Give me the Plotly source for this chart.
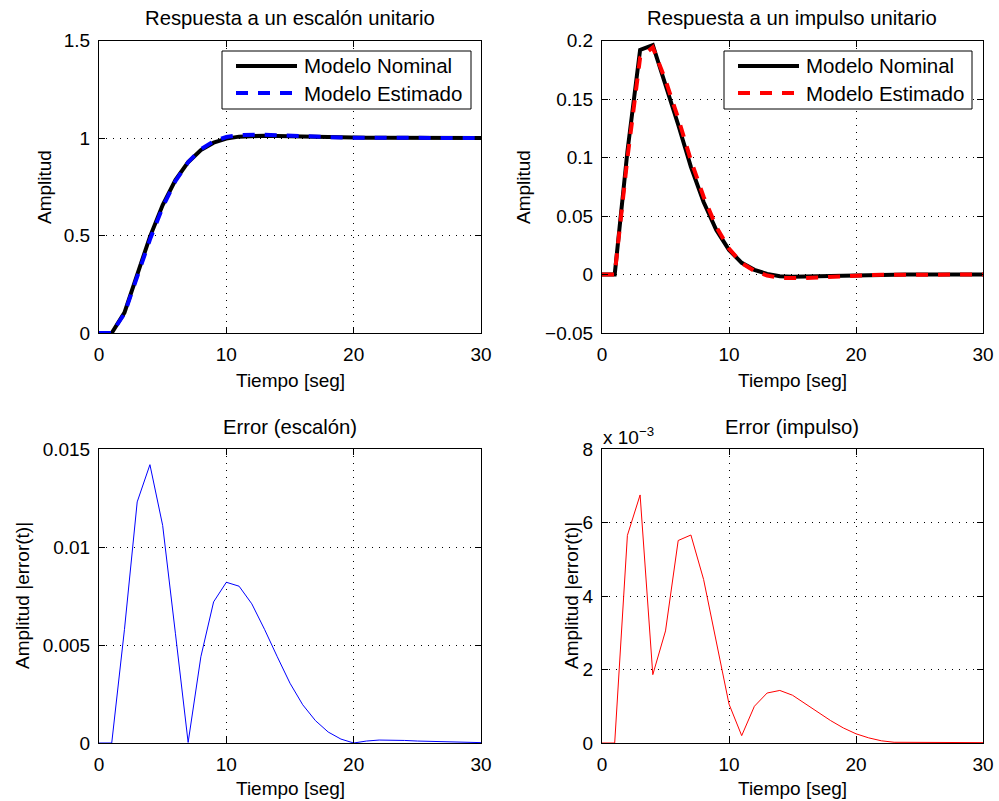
import numpy as np
import plotly.graph_objects as go

# Sample instants (seconds)
t = list(range(31))

# Step response: nominal model vs. estimated model
step_nominal = [0, 0, 0.105, 0.297, 0.493, 0.656, 0.784, 0.876, 0.938, 0.976,
                0.997, 1.007, 1.011, 1.0115, 1.0100, 1.0080, 1.0060, 1.0043, 1.0030, 1.0020,
                1.0013, 1.0009, 1.0007, 1.0006, 1.0005, 1.0004, 1.0003, 1.0002, 1.0002, 1.0002,
                1.0002]
step_estimated = [0, 0, 0.0992, 0.2847, 0.4788, 0.6449, 0.7784, 0.87603, 0.9424, 0.9832,
                  1.0052, 1.0150, 1.0181, 1.0173, 1.0144, 1.01105, 1.00795, 1.00544, 1.00356, 1.0022,
                  1.0013, 1.0008, 1.00055, 1.00045, 1.00037, 1.0003, 1.00022, 1.00014, 1.00016, 1.00017,
                  1.00018]

# Impulse response: nominal model vs. estimated model
impulse_nominal = [0, 0, 0.105, 0.192, 0.196, 0.163, 0.128, 0.092, 0.062, 0.038,
                   0.021, 0.010, 0.004, 0.0005, -0.0015, -0.0020, -0.0020, -0.0017, -0.0013, -0.0010,
                   -0.0007, -0.0004, -0.0002, -0.0001, -0.0001, -0.0001, -0.0001, -0.0001, 0.0, 0.0,
                   0.0]
impulse_estimated = [0, 0, 0.09935, 0.18525, 0.19414, 0.16605, 0.13351, 0.09766, 0.06645, 0.04073,
                     0.02206, 0.0098, 0.0030, -0.00086, -0.00293, -0.0033, -0.00307, -0.00254, -0.00191, -0.00141,
                     -0.00095, -0.00054, -0.00026, -0.00012, -0.00008, -0.00007, -0.00007, -0.000075, 0.00002, 0.000015,
                     0.00001]

# Absolute errors between both models
step_error = np.abs(np.array(step_estimated) - np.array(step_nominal))
impulse_error = np.abs(np.array(impulse_estimated) - np.array(impulse_nominal))

# Tick labels
x_ticks = [0, 10, 20, 30]
y_ticks_step = [0, 0.5, 1, 1.5]
y_text_step = ["0", "0.5", "1", "1.5"]
y_ticks_imp = [-0.05, 0, 0.05, 0.1, 0.15, 0.2]
y_text_imp = ["\u22120.05", "0", "0.05", "0.1", "0.15", "0.2"]
y_ticks_err_step = [0, 0.005, 0.01, 0.015]
y_text_err_step = ["0", "0.005", "0.01", "0.015"]
y_ticks_err_imp = [0, 0.002, 0.004, 0.006, 0.008]
y_text_err_imp = ["0", "2", "4", "6", "8"]

W, H = 999, 801
FONT = "Liberation Sans, Arial, Helvetica, sans-serif"
FS = 19
FS_TITLE = 20.3
FS_LEGEND = 20.5


def px(x):
    return x / W


def py(y):
    return 1 - y / H


fig = go.Figure()

fig.add_trace(go.Scatter(x=t, y=step_nominal, name="Modelo Nominal", mode="lines",
                         line=dict(color="black", width=4), xaxis="x", yaxis="y"))
fig.add_trace(go.Scatter(x=t, y=step_estimated, name="Modelo Estimado", mode="lines",
                         line=dict(color="#0000ff", width=4, dash="12px,10px"), xaxis="x", yaxis="y"))
fig.add_trace(go.Scatter(x=t, y=impulse_nominal, name="Modelo Nominal", mode="lines",
                         line=dict(color="black", width=4), xaxis="x2", yaxis="y2"))
fig.add_trace(go.Scatter(x=t, y=impulse_estimated, name="Modelo Estimado", mode="lines",
                         line=dict(color="#ff0000", width=4, dash="12px,10px"), xaxis="x2", yaxis="y2"))
fig.add_trace(go.Scatter(x=t, y=step_error, mode="lines",
                         line=dict(color="#0000ff", width=1), xaxis="x3", yaxis="y3"))
fig.add_trace(go.Scatter(x=t, y=impulse_error, mode="lines",
                         line=dict(color="#ff0000", width=1), xaxis="x4", yaxis="y4"))

axis_common = dict(showline=True, linecolor="black", linewidth=1, mirror="ticks",
                   ticks="inside", ticklen=6, tickcolor="black", tickwidth=1,
                   showgrid=True, gridcolor="black", gridwidth=1, griddash="1px,6px",
                   zeroline=False, tickfont=dict(family=FONT, size=FS, color="black"))

x_left = [px(99), px(481)]
x_right = [px(602), px(983)]
y_top = [py(333), py(40.5)]
y_bot = [py(743), py(449)]

layout_axes = {}
specs = [
    ("", x_left, y_top, [0, 1.5], y_ticks_step, y_text_step),
    ("2", x_right, y_top, [-0.05, 0.2], y_ticks_imp, y_text_imp),
    ("3", x_left, y_bot, [0, 0.015], y_ticks_err_step, y_text_err_step),
    ("4", x_right, y_bot, [0, 0.008], y_ticks_err_imp, y_text_err_imp),
]
for k, xd, yd, yr, yv, yt in specs:
    layout_axes["xaxis" + k] = dict(axis_common, domain=xd, anchor="y" + k, range=[0, 30],
                                    tickmode="array", tickvals=x_ticks, ticklabelstandoff=4)
    layout_axes["yaxis" + k] = dict(axis_common, domain=yd, anchor="x" + k, range=yr,
                                    tickmode="array", tickvals=yv, ticktext=yt, ticklabelstandoff=4)

fig.update_layout(width=W, height=H, autosize=False, showlegend=False,
                  margin=dict(l=0, r=0, t=0, b=0, autoexpand=False),
                  paper_bgcolor="white", plot_bgcolor="white",
                  font=dict(family=FONT, size=FS, color="black"),
                  **layout_axes)

annotations = []


def label(x, y, text, angle=0, xanchor="center", yanchor="middle", size=FS):
    annotations.append(dict(x=px(x), y=py(y), xref="paper", yref="paper", text=text,
                            showarrow=False, textangle=angle, xanchor=xanchor, yanchor=yanchor,
                            font=dict(family=FONT, size=size, color="black")))


# Subplot titles
label(290, 18, "Respuesta a un escalón unitario", size=FS_TITLE)
label(792, 18, "Respuesta a un impulso unitario", size=FS_TITLE)
label(290, 427, "Error (escalón)", size=FS_TITLE)
label(792, 427, "Error (impulso)", size=FS_TITLE)
# Axis titles
for xc, yc in [(290, 380), (792, 380), (290, 788), (792, 788)]:
    label(xc, yc, "Tiempo [seg]")
label(44, 187, "Amplitud", angle=-90)
label(523, 187, "Amplitud", angle=-90)
label(22, 596, "Amplitud |error(t)|", angle=-90)
label(571, 596, "Amplitud |error(t)|", angle=-90)
# Exponent of the impulse error axis
label(601, 436, "x 10<sup>\u22123</sup>", xanchor="left")

shapes = []


def legend_box(x0, x1, y0, y1, entries):
    shapes.append(dict(type="rect", xref="paper", yref="paper", x0=px(x0), x1=px(x1),
                       y0=py(y1), y1=py(y0), line=dict(color="black", width=1),
                       fillcolor="white", layer="above"))
    row_y = [66, 93]
    for (trace, ry) in zip(entries, row_y):
        ln = trace.line
        shapes.append(dict(type="line", xref="paper", yref="paper",
                           x0=px(x0 + 14), x1=px(x0 + 75), y0=py(ry), y1=py(ry),
                           line=dict(color=ln.color, width=ln.width, dash=ln.dash), layer="above"))
        label(x0 + 80, ry, trace.name, xanchor="left", size=FS_LEGEND)


legend_box(222, 471, 51, 109, [fig.data[0], fig.data[1]])
legend_box(724, 972, 51, 109, [fig.data[2], fig.data[3]])

fig.update_layout(annotations=annotations, shapes=shapes)

fig.write_html("out.html")
